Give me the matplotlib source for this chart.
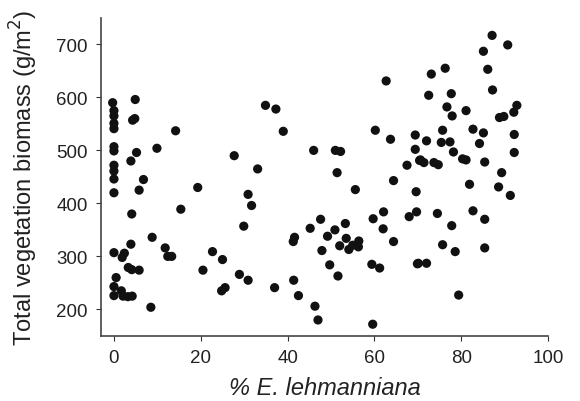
import numpy as np
import matplotlib.pyplot as plt

plt.rcParams['font.family'] = ['Liberation Sans', 'DejaVu Sans']

# % E. lehmanniana cover and total vegetation biomass (g/m2)
pct_lehm = [
    -0.3, 0, 0, 0, 0, 4.9, 4.3, 4.8, 14.2, 0, 0, 5.2, 9.9, 3.9, 0, 27.7,
    0, 0, 6.8, 5.8, 0, 19.3, 30.9, 31.7, 33.1, 4.1, 15.4, 29.9, 8.8, 0,
    3.9, 2.4, 1.9, 11.8, 12.4, 13.3, 22.7, 25.0, 3.3, 4.1, 5.8, 20.5, 28.9,
    30.9, 0.5, 0, 0, 1.7, 2.1, 3.2, 4.2, 24.8, 25.6, 8.5,
    34.9, 37.3, 39.0, 62.7, 46.0, 51.0, 52.2, 60.2, 63.7, 67.5, 70.4,
    51.4, 55.6, 64.4, 69.6, 69.7, 68.0, 62.1, 59.7, 62.0, 64.4, 47.6, 45.2,
    53.3, 50.9, 49.2, 41.6, 41.3, 53.5, 56.4, 55.0, 56.3, 52.0, 54.1, 47.9,
    49.7, 51.6, 59.4, 61.2, 69.9, 37.0, 41.4, 42.5, 46.3, 47.0, 59.6,
    87.1, 90.7, 85.1, 86.1, 76.3, 73.1, 87.2, 72.5, 77.7, 76.7, 77.9, 81.1,
    92.8, 92.1, 88.8, 89.8, 69.4, 75.7, 82.7, 85.1, 72.0, 75.4, 77.4, 84.2,
    92.2, 69.4, 78.2, 92.2, 70.6, 71.4, 73.7, 74.7, 80.3, 81.1, 85.4,
    89.3, 81.9, 88.6, 91.3, 74.5, 82.7, 85.4, 77.8, 75.7, 78.6, 85.4,
    70.1, 72.0, 79.4,
]
biomass = [
    590, 575, 565, 551, 541, 596, 557, 560, 537, 507, 499, 496, 504, 480, 472, 490,
    461, 446, 445, 425, 420, 430, 417, 396, 465, 380, 389, 357, 336, 307,
    323, 306, 298, 316, 300, 300, 309, 294, 279, 275, 274, 274, 266,
    255, 260, 243, 226, 235, 225, 224, 225, 235, 241, 204,
    585, 578, 536, 631, 500, 500, 498, 538, 521, 472, 481,
    458, 426, 443, 422, 384, 375, 384, 371, 352, 328, 370, 353,
    362, 350, 338, 336, 328, 334, 329, 321, 318, 320, 313, 311,
    284, 263, 285, 278, 286, 241, 255, 226, 206, 180, 172,
    717, 699, 687, 653, 655, 644, 614, 604, 607, 582, 565, 575,
    585, 572, 562, 564, 529, 538, 540, 533, 518, 515, 516, 513,
    530, 502, 497, 496, 482, 477, 477, 473, 484, 482, 478,
    458, 436, 431, 415, 381, 386, 370, 358, 322, 309, 316,
    287, 287, 227,
]

x_ticks = [0, 20, 40, 60, 80, 100]
y_ticks = [200, 300, 400, 500, 600, 700]

fig = plt.figure(figsize=(5.8, 4.02), dpi=100)
ax = fig.add_axes([0.174, 0.162, 0.771, 0.791])

ax.scatter(pct_lehm, biomass, s=44, color='#111111', edgecolors='none')

ax.set_xlim(-3, 100)
ax.set_ylim(150, 750)
ax.set_xticks(x_ticks)
ax.set_yticks(y_ticks)
ax.tick_params(labelsize=13.5, length=3.5, pad=6, color='#333333',
               labelcolor='#222222')

for side in ['top', 'right']:
    ax.spines[side].set_visible(False)
for side in ['left', 'bottom']:
    ax.spines[side].set_color('#444444')
    ax.spines[side].set_linewidth(1.2)

ax.set_xlabel('% E. lehmanniana', fontsize=17, style='italic', color='#222222')
ax.set_ylabel('Total vegetation biomass (g/m$^2$)', fontsize=17, color='#222222')
ax.xaxis.set_label_coords(0.5, -0.125)
ax.yaxis.set_label_coords(-0.137, 0.5)

fig.savefig('out.png', dpi=100)
